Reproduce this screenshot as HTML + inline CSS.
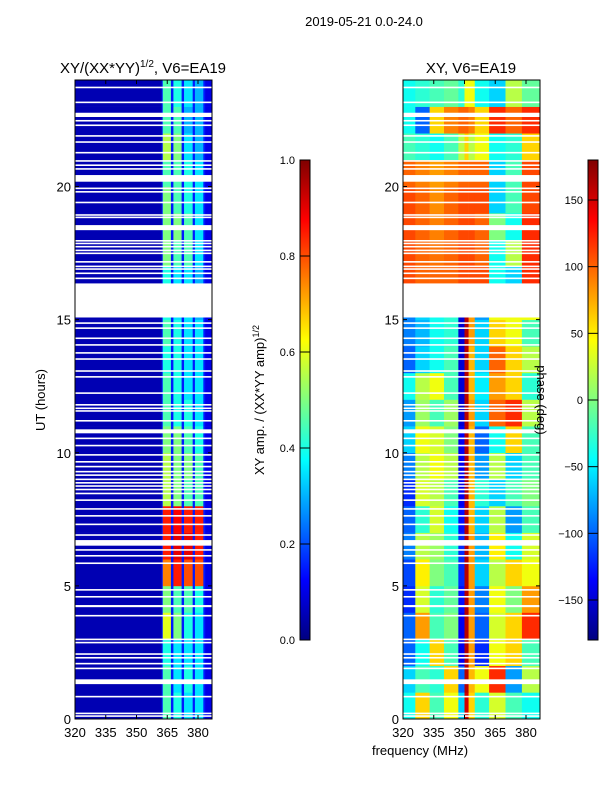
<!DOCTYPE html>
<html><head><meta charset="utf-8">
<style>
body{margin:0;background:#fff;width:600px;height:800px;overflow:hidden;font-family:"Liberation Sans",sans-serif;}
svg text{font-family:"Liberation Sans",sans-serif;fill:#000;}
</style></head>
<body>
<svg id="fig" width="600" height="800" viewBox="0 0 600 800" xmlns="http://www.w3.org/2000/svg">
<defs>
<linearGradient id="jet" x1="0" y1="1" x2="0" y2="0"></linearGradient>
</defs>
<text x="364" y="26" font-size="13" text-anchor="middle">2019-05-21 0.0-24.0</text>
<g id="left"></g>
<g id="right"></g>
<g id="cb1"></g>
<g id="cb2"></g>
<text x="420" y="755" font-size="13" text-anchor="middle">frequency (MHz)</text>
</svg>
<script>
// ---- data ----
const hours = [0,1,2,3,4,5,6,7,8,9,10,11,12,13,14,15,16,17,18,19,20,21,22,23];
const ampBackground = 0.05;
const ampGapCol = 0.15;
const ampTail = 0.1;
const ampStripe1 = [.45,.45,.4,.6,.5,.75,.85,.85,.55,.55,.5,.45,.45,.4,.45,.4,.4,.5,.5,.5,.45,.55,.45,.45];
const ampStripe2 = [.4,.35,.35,.5,.45,.85,.9,.88,.5,.5,.5,.4,.4,.4,.4,.35,.35,.45,.5,.45,.45,.5,.45,.4];
const ampStripe3 = [.35,.4,.35,.4,.45,.8,.9,.85,.45,.5,.45,.4,.35,.35,.35,.35,.35,.45,.45,.4,.4,.35,.3,.35];
const ampStripe4 = [.35,.35,.35,.35,.4,.8,.85,.85,.45,.45,.4,.35,.35,.35,.35,.3,.3,.35,.35,.35,.35,.3,.3,.3];
const ampFreqEdges = [320,362.3,362.8,366.8,368,372,373.2,377.4,378.5,382.6,383.5,386.8];
const phaseFreqEdges = [320,326,333,340,347,350,352,355,362,370,378,386.8];
const phaseRows = [
[-40,60,-20,40,-60,150,60,-30,30,-20,-40],
[-60,-20,-30,60,-100,160,70,40,120,-80,20],
[-100,-40,60,-20,-140,160,80,-120,40,60,-20],
[-100,80,-20,0,-140,160,80,-100,30,60,120],
[-120,30,-30,-10,-130,160,80,-90,40,0,80],
[-110,50,0,-20,-120,160,80,-60,20,60,40],
[-90,20,10,-30,-120,160,80,-70,50,-40,30],
[-100,-30,30,-40,-130,160,70,-60,20,-80,-20],
[-120,30,20,-20,-140,160,70,-30,-60,-20,0],
[-90,20,40,20,-140,160,70,-80,20,-60,-20],
[-60,40,30,0,-140,160,70,-100,-40,60,-20],
[-80,10,-20,10,-150,160,80,-60,100,120,20],
[-40,20,40,-20,-150,160,70,-50,80,60,-30],
[-100,-60,-40,-20,-150,160,70,-60,100,60,20],
[-90,-70,-40,-30,-150,160,80,-60,60,40,-20],
[-90,-60,-40,-30,-150,160,80,-80,40,40,40],
[110,100,100,100,110,110,110,110,-40,-60,120],
[110,100,95,100,110,110,110,100,-40,20,120],
[110,100,90,100,110,110,110,100,0,-40,120],
[110,100,85,100,110,110,110,110,-60,-20,110],
[100,90,80,90,100,100,100,100,-60,-20,110],
[-20,-30,-40,-20,20,60,20,40,-40,-30,60],
[-40,-100,60,90,100,100,90,60,120,100,120],
[-40,-30,-20,-10,-30,40,40,-40,-60,20,-10]];
const gapStarts = [23.69,23.13,22.61,22.44,22.27,21.87,21.64,21.24,20.93,20.77,20.63,20.18,19.9,19.77,19.37,18.9,18.81,18.36,17.93,17.83,17.71,17.57,17.46,17.14,16.97,16.87,16.71,16.52,15.08,14.84,14.65,14.27,14.02,13.72,13.49,13.04,12.82,12.21,11.77,11.64,11.54,11.17,10.73,10.51,10.24,9.89,9.63,9.45,9.26,9.13,8.97,8.84,8.72,8.59,8.44,8.19,7.86,7.6,7.28,6.88,6.51,6.32,6.1,5.82,4.82,4.56,4.2,3.85,2.96,2.84,2.41,2.27,2.05,1.87,1.31,0.81,0.18,0.08];
const gapEnds   = [23.75,23.19,22.77,22.5,22.33,21.93,21.7,21.3,20.99,20.83,20.69,20.43,19.96,19.83,19.43,18.96,18.87,18.55,17.99,17.89,17.77,17.63,17.52,17.2,17.03,16.93,16.77,16.58,16.36,14.9,14.71,14.33,14.08,13.78,13.55,13.1,12.88,12.27,11.83,11.7,11.6,11.23,10.88,10.57,10.3,9.95,9.69,9.51,9.32,9.19,9.03,8.9,8.78,8.65,8.5,8.25,7.92,7.66,7.34,6.94,6.72,6.38,6.16,5.88,4.88,4.62,4.28,3.91,3.02,2.9,2.47,2.33,2.11,1.93,1.49,0.87,0.24,0.14];
const yTicks = [0,5,10,15,20];
const xTicks = [320,335,350,365,380];
const ampTicks = [0,0.2,0.4,0.6,0.8,1.0];
const phaseTicks = [-150,-100,-50,0,50,100,150];

// ---- helpers ----
const NS="http://www.w3.org/2000/svg";
function mk(parent,tag,attrs){const e=document.createElementNS(NS,tag);for(const k in attrs)e.setAttribute(k,attrs[k]);parent.appendChild(e);return e;}
function cl(v){return Math.max(0,Math.min(1,v));}
function jet(v){v=cl(v);const r=cl(1.5-Math.abs(4*v-3)),g=cl(1.5-Math.abs(4*v-2)),b=cl(1.5-Math.abs(4*v-1));return `rgb(${Math.round(r*255)},${Math.round(g*255)},${Math.round(b*255)})`;}
const grad=document.getElementById('jet');
for(let k=0;k<=32;k++){mk(grad,'stop',{offset:k/32,'stop-color':jet(k/32)});}
const Y0=719,Y1=80;
function yS(h){return Y0-(h/24)*(Y0-Y1);}
function xS(x0,f){return x0+(f-320)*(123/60);}

function drawPanel(g,x0,colsFn,edges,nameBase){
  const x1=x0+137;
  for(let i=0;i<hours.length;i++){
    const vals=colsFn(i);
    for(let j=0;j<edges.length-1;j++){
      const xa=xS(x0,edges[j]),xb=Math.min(x1,xS(x0,edges[j+1]));
      const r=mk(g,'rect',{x:xa,y:yS(hours[i]+1),width:xb-xa+0.3,height:yS(hours[i])-yS(hours[i]+1)+0.3,fill:jet(vals[j])});
      
      
    }
  }
  for(let k=0;k<gapStarts.length;k++){
    const r=mk(g,'rect',{x:x0,y:yS(gapEnds[k]),width:137,height:yS(gapStarts[k])-yS(gapEnds[k]),fill:'#fff'});
    
    
  }
  const fr=mk(g,'rect',{x:x0,y:Y1,width:137,height:Y0-Y1,fill:'none',stroke:'#000','stroke-width':1});
  
  
  for(const t of yTicks){
    const y=yS(t);
    mk(g,'line',{x1:x0,x2:x0+4,y1:y,y2:y,stroke:'#000'});
    mk(g,'line',{x1:x1-4,x2:x1,y1:y,y2:y,stroke:'#000'});
    const tx=mk(g,'text',{x:x0-4,y:y+5,'font-size':13,'text-anchor':'end'});tx.textContent=t;
    
    
  }
  for(const t of xTicks){
    const x=xS(x0,t);
    mk(g,'line',{x1:x,x2:x,y1:Y0,y2:Y0-4,stroke:'#000'});
    mk(g,'line',{x1:x,x2:x,y1:Y1,y2:Y1+4,stroke:'#000'});
    const tx=mk(g,'text',{x:x,y:737,'font-size':13,'text-anchor':'middle'});tx.textContent=t;
    
    
  }
}
const L=document.getElementById('left'),R=document.getElementById('right');
drawPanel(L,75,i=>[ampBackground,ampGapCol,ampStripe1[i],ampGapCol,ampStripe2[i],ampGapCol,ampStripe3[i],ampGapCol,ampStripe4[i],ampGapCol,ampTail],ampFreqEdges,'amp');
drawPanel(R,403,i=>phaseRows[i].map(p=>(p+180)/360),phaseFreqEdges,'phase');
let t=mk(L,'text',{x:143,y:73,'font-size':15,'text-anchor':'middle'});
t.innerHTML='XY/(XX*YY)<tspan font-size="10" dy="-6">1/2</tspan><tspan dy="6">, V6=EA19</tspan>';


t=mk(R,'text',{x:471,y:73,'font-size':15,'text-anchor':'middle'});t.textContent='XY, V6=EA19';


t=mk(L,'text',{x:45,y:400,'font-size':13,'text-anchor':'middle',transform:'rotate(-90 45 400)'});t.textContent='UT (hours)';



function colorbar(g,x,ticks,lo,hi,name){
  const r=mk(g,'rect',{x:x,y:160,width:10,height:480,fill:'url(#jet)',stroke:'#000','stroke-width':1});
  
  
  for(const v of ticks){
    const y=640-(v-lo)/(hi-lo)*480;
    mk(g,'line',{x1:x,x2:x+10,y1:y,y2:y,stroke:'#000'});
    const tx=mk(g,'text',{x:x-5,y:y+4,'font-size':11,'text-anchor':'end'});
    tx.textContent=(hi<=1)?v.toFixed(1):String(v).replace('-','\u2212');
    
    
  }
}
colorbar(document.getElementById('cb1'),300,ampTicks,0,1,'amplitude-colorbar');
colorbar(document.getElementById('cb2'),588,phaseTicks,-180,180,'phase-colorbar');
t=mk(document.getElementById('cb1'),'text',{x:264,y:400,'font-size':13,'text-anchor':'middle',transform:'rotate(-90 264 400)'});
t.innerHTML='XY amp. / (XX*YY amp)<tspan font-size="9" dy="-5">1/2</tspan>';


t=mk(document.getElementById('cb2'),'text',{x:537,y:400,'font-size':13,'text-anchor':'middle',transform:'rotate(90 537 400)'});
t.textContent='phase (deg)';


</script>
</body></html>
